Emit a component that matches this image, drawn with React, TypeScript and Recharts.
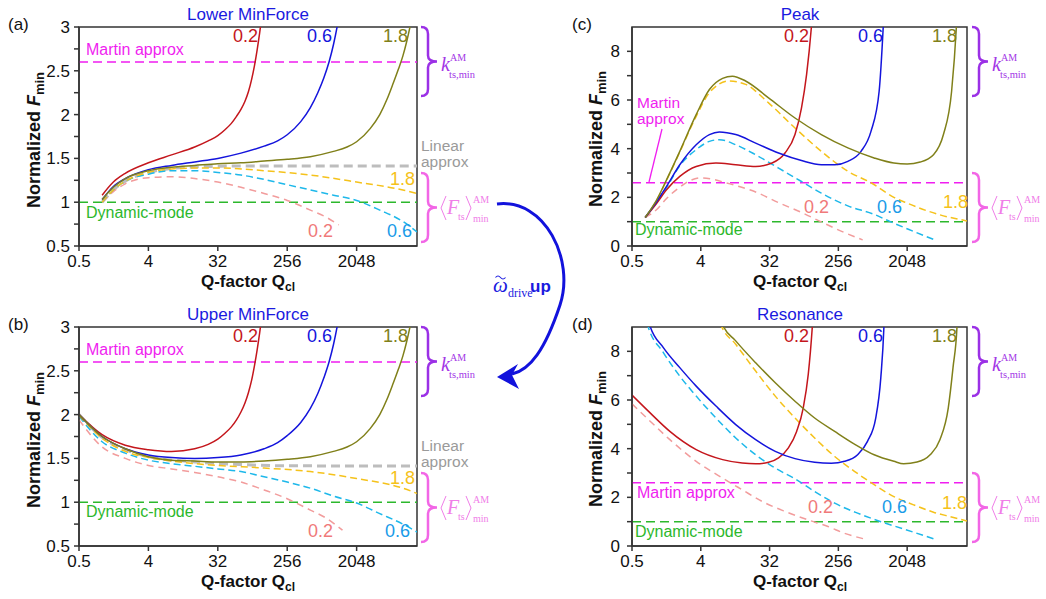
import React from 'react'
import { LineChart, Line, XAxis, YAxis, ReferenceLine, ReferenceArea } from 'recharts'

document.body.style.margin = '0'

type Pt = [number, number]

const qTicks = [0.5, 4, 32, 256, 2048]
const qDomain: [number, number] = [0.5, 12500]
const minForceTicks = [0.5, 0.75, 1, 1.25, 1.5, 1.75, 2, 2.25, 2.5, 2.75, 3]
const ampTicks = [0, 1, 2, 3, 4, 5, 6, 7, 8]
const martinLevel = 2.6
const dynamicLevel = 1

// (a) Lower MinForce
const lowerRed: Pt[] = [[1, 1.08], [1.4, 1.23], [2, 1.33], [4, 1.45], [8, 1.54], [16, 1.63], [24, 1.7], [32, 1.76], [40, 1.83], [48, 1.9], [56, 1.98], [64, 2.06], [72, 2.15], [80, 2.26], [88, 2.4], [96, 2.56], [104, 2.74], [112, 2.93], [120, 3.13]]
const lowerBlue: Pt[] = [[1, 1.03], [1.4, 1.18], [2, 1.27], [4, 1.37], [8, 1.42], [16, 1.46], [32, 1.5], [64, 1.56], [128, 1.64], [192, 1.7], [256, 1.77], [384, 1.92], [512, 2.08], [640, 2.25], [768, 2.42], [896, 2.6], [1024, 2.8], [1152, 3.02], [1280, 3.25]]
const lowerOlive: Pt[] = [[1, 1.03], [1.4, 1.17], [2, 1.27], [4, 1.36], [8, 1.4], [16, 1.42], [32, 1.44], [64, 1.45], [128, 1.47], [256, 1.49], [512, 1.52], [1024, 1.58], [1536, 1.63], [2048, 1.69], [3072, 1.84], [4096, 2.0], [5120, 2.18], [6144, 2.36], [7168, 2.52], [8192, 2.67], [9216, 2.84], [10240, 3.02], [11264, 3.2]]
const lowerGray: Pt[] = [[1, 1.0], [1.4, 1.14], [2, 1.24], [4, 1.34], [8, 1.385], [16, 1.403], [32, 1.41], [64, 1.414], [12500, 1.414]]
const lowerYellow: Pt[] = [[1, 1.0], [1.4, 1.14], [2, 1.24], [4, 1.34], [8, 1.38], [16, 1.39], [32, 1.39], [128, 1.36], [512, 1.31], [2048, 1.23], [8192, 1.14], [12500, 1.1]]
const lowerCyan: Pt[] = [[1, 1.0], [1.4, 1.14], [2, 1.24], [4, 1.32], [8, 1.36], [16, 1.36], [32, 1.34], [64, 1.31], [128, 1.26], [256, 1.2], [512, 1.14], [1024, 1.08], [2048, 1.02], [4096, 0.91], [8192, 0.78], [12500, 0.66]]
const lowerPink: Pt[] = [[1, 1.0], [1.4, 1.12], [2, 1.21], [4, 1.28], [8, 1.29], [16, 1.27], [32, 1.23], [64, 1.17], [128, 1.1], [256, 1.02], [512, 0.91], [817, 0.83], [1200, 0.74]]

// (b) Upper MinForce
const upperRed: Pt[] = [[0.5, 2.0], [1, 1.77], [2, 1.65], [4, 1.6], [8, 1.58], [16, 1.61], [24, 1.66], [32, 1.72], [40, 1.79], [48, 1.86], [56, 1.94], [64, 2.03], [72, 2.13], [80, 2.25], [88, 2.39], [96, 2.56], [104, 2.74], [112, 2.93], [120, 3.13]]
const upperBlue: Pt[] = [[0.5, 2.0], [1, 1.75], [2, 1.61], [4, 1.54], [8, 1.51], [16, 1.5], [32, 1.51], [64, 1.54], [128, 1.61], [192, 1.68], [256, 1.76], [384, 1.91], [512, 2.07], [640, 2.24], [768, 2.42], [896, 2.6], [1024, 2.8], [1152, 3.02], [1280, 3.25]]
const upperOlive: Pt[] = [[0.5, 2.0], [1, 1.75], [2, 1.61], [4, 1.52], [8, 1.48], [16, 1.47], [32, 1.46], [64, 1.46], [128, 1.47], [256, 1.49], [512, 1.52], [1024, 1.58], [1536, 1.63], [2048, 1.69], [3072, 1.84], [4096, 2.0], [5120, 2.18], [6144, 2.36], [7168, 2.52], [8192, 2.67], [9216, 2.84], [10240, 3.02], [11264, 3.2]]
const upperGray: Pt[] = [[0.5, 2.0], [1, 1.74], [2, 1.6], [4, 1.52], [16, 1.46], [64, 1.43], [256, 1.415], [12500, 1.414]]
const upperYellow: Pt[] = [[0.5, 1.99], [1, 1.73], [2, 1.58], [4, 1.51], [8, 1.47], [16, 1.44], [32, 1.42], [128, 1.39], [512, 1.35], [2048, 1.27], [8192, 1.16], [12500, 1.1]]
const upperCyan: Pt[] = [[0.5, 1.98], [1, 1.69], [2, 1.56], [4, 1.48], [8, 1.44], [16, 1.41], [32, 1.38], [64, 1.35], [128, 1.29], [256, 1.23], [512, 1.16], [1024, 1.07], [2048, 0.99], [4096, 0.87], [8192, 0.75], [12500, 0.66]]
const upperPink: Pt[] = [[0.5, 1.94], [1, 1.63], [2, 1.5], [4, 1.42], [8, 1.38], [16, 1.34], [32, 1.29], [64, 1.23], [128, 1.14], [256, 1.04], [512, 0.91], [817, 0.82], [1340, 0.68]]

// (c) Peak
const peakRed: Pt[] = [[0.745, 1.17], [1.055, 1.76], [1.42, 2.31], [2.12, 2.86], [3.48, 3.27], [6.33, 3.41], [11.5, 3.34], [21, 3.27], [34.5, 3.41], [51, 3.82], [69, 4.58], [84, 5.68], [98, 7.05], [114, 9.1], [120, 10]]
const peakBlue: Pt[] = [[0.745, 1.17], [1.055, 1.83], [1.42, 2.45], [2.12, 3.34], [3.48, 4.16], [5.19, 4.58], [7, 4.69], [11.5, 4.58], [21, 4.23], [42, 3.82], [84, 3.51], [153, 3.34], [229, 3.34], [341, 3.48], [508, 3.89], [686, 4.71], [878, 6.36], [997, 9.1], [1030, 10]]
const peakOlive: Pt[] = [[0.745, 1.17], [1.055, 1.9], [1.42, 2.72], [2.12, 3.89], [3.48, 5.4], [5.19, 6.43], [7.73, 6.89], [10.4, 6.98], [15.5, 6.78], [31, 6.09], [69, 5.26], [153, 4.58], [341, 4.03], [755, 3.62], [1370, 3.41], [2048, 3.37], [3040, 3.45], [4540, 3.75], [6130, 4.58], [7850, 6.36], [9100, 9.1], [9400, 10]]
const peakYellow: Pt[] = [[0.745, 1.17], [1.055, 1.88], [1.42, 2.7], [2.12, 3.86], [3.48, 5.33], [5.19, 6.3], [9.4, 6.78], [15.5, 6.64], [31, 5.88], [69, 4.85], [153, 3.89], [341, 3.07], [686, 2.6], [1370, 2.0], [2048, 1.76], [5510, 1.28], [12500, 1.03]]
const peakCyan: Pt[] = [[0.745, 1.17], [1.055, 1.8], [1.42, 2.4], [2.12, 3.3], [3.48, 3.96], [5.19, 4.3], [7, 4.37], [11.5, 4.16], [21, 3.75], [42, 3.2], [84, 2.65], [153, 2.17], [341, 1.65], [755, 1.3], [1228, 1.0], [2490, 0.6], [4710, 0.25]]
const peakPink: Pt[] = [[0.745, 1.17], [1.055, 1.5], [1.42, 1.95], [2.12, 2.42], [2.86, 2.68], [4.05, 2.8], [5.74, 2.74], [8.5, 2.6], [21, 2.22], [42, 1.78], [84, 1.38], [170, 0.92], [309, 0.55], [534, 0.25]]

// (d) Resonance
const resRed: Pt[] = [[0.5, 6.2], [0.865, 5.47], [1.57, 4.71], [3.48, 3.96], [7.73, 3.55], [14, 3.41], [21, 3.38], [31, 3.44], [42, 3.62], [56.5, 4.03], [72.5, 4.71], [88.6, 5.68], [103, 7.05], [117, 9.1], [122, 10]]
const resBlue: Pt[] = [[0.8, 9.6], [0.85, 9.1], [1.29, 8.15], [2.12, 7.33], [3.48, 6.57], [6.33, 5.75], [11.5, 4.99], [21, 4.37], [38, 3.89], [69, 3.59], [125, 3.44], [207, 3.4], [309, 3.48], [458, 3.75], [617, 4.3], [792, 5.26], [923, 6.91], [1017, 9.1], [1040, 10]]
const resOlive: Pt[] = [[7.5, 9.6], [7.73, 9.1], [11.5, 8.43], [21, 7.53], [38, 6.71], [69, 5.95], [125, 5.26], [229, 4.71], [416, 4.19], [755, 3.75], [1370, 3.48], [1845, 3.38], [2760, 3.45], [4100, 3.75], [5510, 4.37], [7100, 5.68], [8190, 7.33], [9270, 9.1], [9500, 10]]
const resYellow: Pt[] = [[7.0, 9.6], [7.35, 9.1], [11.5, 8.29], [21, 7.19], [38, 6.16], [69, 5.26], [125, 4.44], [229, 3.68], [416, 3.07], [755, 2.52], [1370, 2.03], [2490, 1.69], [4540, 1.39], [7440, 1.21], [12500, 1.03]]
const resCyan: Pt[] = [[0.74, 9.6], [0.8, 9.1], [1.29, 7.95], [2.12, 6.98], [3.48, 6.16], [6.33, 5.26], [11.5, 4.44], [21, 3.75], [38, 3.2], [69, 2.76], [125, 2.24], [229, 1.76], [458, 1.35], [923, 1.0], [1845, 0.7], [5010, 0.25]]
const resPink: Pt[] = [[0.5, 5.84], [0.865, 5.13], [1.57, 4.37], [3.48, 3.48], [7.73, 2.79], [14, 2.31], [25.6, 1.83], [51, 1.42], [103, 1.07], [187, 0.8], [309, 0.52], [560, 0.29]]

const C = {
  red: '#c4161c',
  blue: '#1414dc',
  olive: '#80801a',
  yellow: '#f5c21b',
  cyan: '#1eb8ea',
  pink: '#f29c9c',
  gray: '#bdbdbd',
  martin: '#f01ef0',
  green: '#2cb82c',
  title: '#1a1ae0',
  kBrace: '#9b30e6',
  fBrace: '#f266e6',
}

interface Series { pts: Pt[]; color: string; dash?: string; width?: number }

function curves(gray: Pt[] | null, pink: Pt[], cyan: Pt[], yellow: Pt[], red: Pt[], blue: Pt[], olive: Pt[]): Series[] {
  const s: Series[] = []
  if (gray) s.push({ pts: gray, color: C.gray, dash: '9 5', width: 3 })
  s.push({ pts: pink, color: C.pink, dash: '7 5' })
  s.push({ pts: cyan, color: C.cyan, dash: '7 4' })
  s.push({ pts: yellow, color: C.yellow, dash: '7 4' })
  s.push({ pts: red, color: C.red })
  s.push({ pts: blue, color: C.blue })
  s.push({ pts: olive, color: C.olive })
  return s
}

interface PanelProps {
  left: number
  top: number
  width: number
  plotLeft: number
  plotRight: number
  yDomain: [number, number]
  yTicks: number[]
  labelStep: number
  labelGap: number
  series: Series[]
}

function Panel({ left, top, width, plotLeft, plotRight, yDomain, yTicks, labelStep, labelGap, series }: PanelProps) {
  const fmt = (v: number) => (Math.abs(v / labelStep - Math.round(v / labelStep)) < 1e-6 ? String(v) : '')
  return (
    <div style={{ position: 'absolute', left, top }}>
      <LineChart
        width={width}
        height={300}
        margin={{ top: 27, right: width - plotRight, bottom: 24, left: plotLeft - 45 }}
        style={{ fontFamily: 'Liberation Sans, Arial, sans-serif' }}
      >
        <XAxis
          dataKey="q"
          type="number"
          scale="log"
          domain={qDomain}
          ticks={qTicks}
          allowDataOverflow
          interval={0}
          height={30}
          tickSize={5}
          tickMargin={4}
          stroke="#333"
          strokeWidth={1.5}
          tick={{ fill: '#111', fontSize: 17 }}
          tickFormatter={(v: number) => String(v)}
        />
        <YAxis
          type="number"
          domain={yDomain}
          ticks={yTicks}
          allowDataOverflow
          interval={0}
          width={45}
          tickSize={5}
          tickMargin={labelGap}
          stroke="#333"
          strokeWidth={1.5}
          tick={{ fill: '#111', fontSize: 17 }}
          tickFormatter={fmt}
        />
        <ReferenceLine y={martinLevel} stroke={C.martin} strokeDasharray="9 5" strokeWidth={1.5} />
        <ReferenceLine y={dynamicLevel} stroke={C.green} strokeDasharray="9 5" strokeWidth={1.5} />
        {series.map((s, i) => (
          <Line
            key={i}
            data={s.pts.map(([q, f]) => ({ q, f }))}
            dataKey="f"
            type="monotone"
            stroke={s.color}
            strokeWidth={s.width ?? 1.5}
            strokeDasharray={s.dash}
            dot={false}
            activeDot={false}
            isAnimationActive={false}
          />
        ))}
        <ReferenceArea
          x1={qDomain[0]}
          x2={qDomain[1]}
          y1={yDomain[0]}
          y2={yDomain[1]}
          fill="none"
          fillOpacity={0}
          stroke="#333"
          strokeWidth={1.5}
        />
      </LineChart>
    </div>
  )
}

const sans = 'Liberation Sans, Arial, sans-serif'
const serif = 'Liberation Serif, Times New Roman, serif'

function Brace({ x, y0, y1, color }: { x: number; y0: number; y1: number; color: string }) {
  const xm = x + 7
  const tip = x + 16
  const ym = (y0 + y1) / 2
  const d = `M ${x} ${y0} Q ${xm} ${y0} ${xm} ${y0 + 7} L ${xm} ${ym - 6} Q ${xm} ${ym} ${tip} ${ym} Q ${xm} ${ym} ${xm} ${ym + 6} L ${xm} ${y1 - 7} Q ${xm} ${y1} ${x} ${y1}`
  return <path d={d} fill="none" stroke={color} strokeWidth={2.5} />
}

function RightNotes({ x, y }: { x: number; y: number }) {
  // x: left of the braces, y: panel top
  const lx = x + 20
  return (
    <g>
      <Brace x={x} y0={y + 27} y1={y + 96} color={C.kBrace} />
      <Brace x={x} y0={y + 173} y1={y + 242} color={C.fBrace} />
      <text x={lx} y={y + 71} fontFamily={serif} fontStyle="italic" fontSize={20} fill="#a336e6">k</text>
      <text x={lx + 9} y={y + 61} fontFamily={serif} fontSize={10} fill="#a336e6">AM</text>
      <text x={lx + 8} y={y + 78} fontFamily={serif} fontSize={10.5} fill="#a336e6">ts,min</text>
      <path d={`M ${lx + 5} ${y + 196} L ${lx} ${y + 208} L ${lx + 5} ${y + 220}`} fill="none" stroke="#f07ee8" strokeWidth={1} />
      <text x={lx + 6} y={y + 214} fontFamily={serif} fontStyle="italic" fontSize={20} fill="#f07ee8">F</text>
      <text x={lx + 17} y={y + 220} fontFamily={serif} fontSize={10} fill="#f07ee8">ts</text>
      <path d={`M ${lx + 25} ${y + 196} L ${lx + 30} ${y + 208} L ${lx + 25} ${y + 220}`} fill="none" stroke="#f07ee8" strokeWidth={1} />
      <text x={lx + 32} y={y + 203} fontFamily={serif} fontSize={10} fill="#f07ee8">AM</text>
      <text x={lx + 32} y={y + 222} fontFamily={serif} fontSize={10} fill="#f07ee8">min</text>
    </g>
  )
}

function AxisTitles({ cx, y, ylx, yly }: { cx: number; y: number; ylx: number; yly: number }) {
  return (
    <g fontFamily={sans} fontWeight="bold" fill="#111">
      <text x={cx} y={y + 287} fontSize={17} textAnchor="middle">
        Q-factor Q<tspan fontSize={12} dy={4}>cl</tspan>
      </text>
      <text x={ylx} y={y + yly} fontSize={18} textAnchor="middle" transform={`rotate(-90 ${ylx} ${y + yly})`}>
        Normalized <tspan fontStyle="italic">F</tspan>
        <tspan fontSize={13} dy={4}>min</tspan>
      </text>
    </g>
  )
}

interface Tag { t: string; x: number; y: number; c: string }

function Tags({ items, size }: { items: Tag[]; size: number }) {
  return (
    <g fontFamily={sans} fontSize={size}>
      {items.map((it, i) => (
        <text key={i} x={it.x} y={it.y} fill={it.c}>{it.t}</text>
      ))}
    </g>
  )
}

function Overlay() {
  const leftTags: Tag[] = [
    { t: '0.2', x: 233, y: 42, c: C.red },
    { t: '0.6', x: 307, y: 42, c: C.blue },
    { t: '1.8', x: 383, y: 42, c: C.olive },
  ]
  const rightTags: Tag[] = [
    { t: '0.2', x: 784, y: 42, c: C.red },
    { t: '0.6', x: 858, y: 42, c: C.blue },
    { t: '1.8', x: 932, y: 42, c: C.olive },
  ]
  const shift = (a: Tag[], dy: number) => a.map((t) => ({ ...t, y: t.y + dy }))
  return (
    <svg width={1046} height={599} style={{ position: 'absolute', left: 0, top: 0, pointerEvents: 'none' }}>
      <g fontFamily={sans} fontSize={17}>
        <text x={8} y={30} fill="#111">(a)</text>
        <text x={8} y={330} fill="#111">(b)</text>
        <text x={572} y={30} fill="#111">(c)</text>
        <text x={572} y={330} fill="#111">(d)</text>
        <text x={248} y={20} fill={C.title} textAnchor="middle">Lower MinForce</text>
        <text x={248} y={320} fill={C.title} textAnchor="middle">Upper MinForce</text>
        <text x={800} y={20} fill={C.title} textAnchor="middle">Peak</text>
        <text x={800} y={320} fill={C.title} textAnchor="middle">Resonance</text>
      </g>

      <AxisTitles cx={248} y={0} ylx={40} yly={140} />
      <AxisTitles cx={248} y={300} ylx={40} yly={140} />
      <AxisTitles cx={800} y={0} ylx={602} yly={139} />
      <AxisTitles cx={800} y={300} ylx={602} yly={139} />

      <Tags size={18} items={[...leftTags, ...shift(leftTags, 300), ...rightTags, ...shift(rightTags, 300)]} />
      <Tags
        size={18}
        items={[
          { t: '1.8', x: 390, y: 185, c: C.yellow },
          { t: '0.2', x: 308, y: 237, c: '#f07a7a' },
          { t: '0.6', x: 387, y: 237, c: '#1a9be8' },
          { t: '1.8', x: 390, y: 484, c: C.yellow },
          { t: '0.2', x: 308, y: 537, c: '#f07a7a' },
          { t: '0.6', x: 385, y: 537, c: '#1a9be8' },
          { t: '1.8', x: 943, y: 208, c: C.yellow },
          { t: '0.2', x: 804, y: 213, c: '#f07a7a' },
          { t: '0.6', x: 877, y: 213, c: '#1a9be8' },
          { t: '1.8', x: 942, y: 509, c: C.yellow },
          { t: '0.2', x: 808, y: 513, c: '#f07a7a' },
          { t: '0.6', x: 882, y: 513, c: '#1a9be8' },
        ]}
      />
      <Tags
        size={16}
        items={[
          { t: 'Martin approx', x: 86, y: 55, c: C.martin },
          { t: 'Martin approx', x: 86, y: 355, c: C.martin },
          { t: 'Dynamic-mode', x: 86, y: 218, c: C.green },
          { t: 'Dynamic-mode', x: 86, y: 517, c: C.green },
          { t: 'Dynamic-mode', x: 635, y: 235, c: C.green },
          { t: 'Dynamic-mode', x: 635, y: 537, c: C.green },
          { t: 'Martin approx', x: 637, y: 498, c: C.martin },
        ]}
      />
      <Tags
        size={15.5}
        items={[
          { t: 'Martin', x: 637, y: 108, c: C.martin },
          { t: 'approx', x: 637, y: 124, c: C.martin },
          { t: 'Linear', x: 421, y: 151, c: '#9a9a9a' },
          { t: 'approx', x: 421, y: 167, c: '#9a9a9a' },
          { t: 'Linear', x: 421, y: 451, c: '#9a9a9a' },
          { t: 'approx', x: 421, y: 467, c: '#9a9a9a' },
        ]}
      />
      <line x1={662} y1={129} x2={649} y2={182} stroke={C.martin} strokeWidth={1.3} />

      <RightNotes x={421} y={0} />
      <RightNotes x={421} y={300} />
      <RightNotes x={972} y={0} />
      <RightNotes x={972} y={300} />

      <path d="M 497 204 C 545 198, 575 260, 560 305 C 545 350, 530 370, 512 374" fill="none" stroke="#1212dc" strokeWidth={3} />
      <path d="M 497 377 L 518 364 L 512 375 L 519 389 Z" fill="#1212dc" />
      <path d="M 495.5 277.5 q 2.5 -3 5 0 t 5 0" fill="none" stroke="#1a1ae0" strokeWidth={1.1} />
      <g fill="#1a1ae0">
        <text x={493} y={292} fontFamily={serif} fontStyle="italic" fontSize={21}>ω</text>
        <text x={508} y={297} fontFamily={serif} fontSize={12}>drive</text>
        <text x={530} y={292} fontFamily={sans} fontWeight="bold" fontSize={17}>up</text>
      </g>
    </svg>
  )
}

export default function App() {
  return (
    <div style={{ position: 'relative', width: 1046, height: 599, background: '#fff', overflow: 'hidden' }}>
      <Panel left={0} top={0} width={520} plotLeft={79} plotRight={417} yDomain={[0.5, 3]} yTicks={minForceTicks} labelStep={0.5} labelGap={4}
        series={curves(lowerGray, lowerPink, lowerCyan, lowerYellow, lowerRed, lowerBlue, lowerOlive)} />
      <Panel left={0} top={300} width={520} plotLeft={79} plotRight={417} yDomain={[0.5, 3]} yTicks={minForceTicks} labelStep={0.5} labelGap={4}
        series={curves(upperGray, upperPink, upperCyan, upperYellow, upperRed, upperBlue, upperOlive)} />
      <Panel left={520} top={0} width={526} plotLeft={112} plotRight={447} yDomain={[0, 9]} yTicks={ampTicks} labelStep={2} labelGap={7}
        series={curves(null, peakPink, peakCyan, peakYellow, peakRed, peakBlue, peakOlive)} />
      <Panel left={520} top={300} width={526} plotLeft={112} plotRight={447} yDomain={[0, 9]} yTicks={ampTicks} labelStep={2} labelGap={7}
        series={curves(null, resPink, resCyan, resYellow, resRed, resBlue, resOlive)} />
      <Overlay />
    </div>
  )
}
